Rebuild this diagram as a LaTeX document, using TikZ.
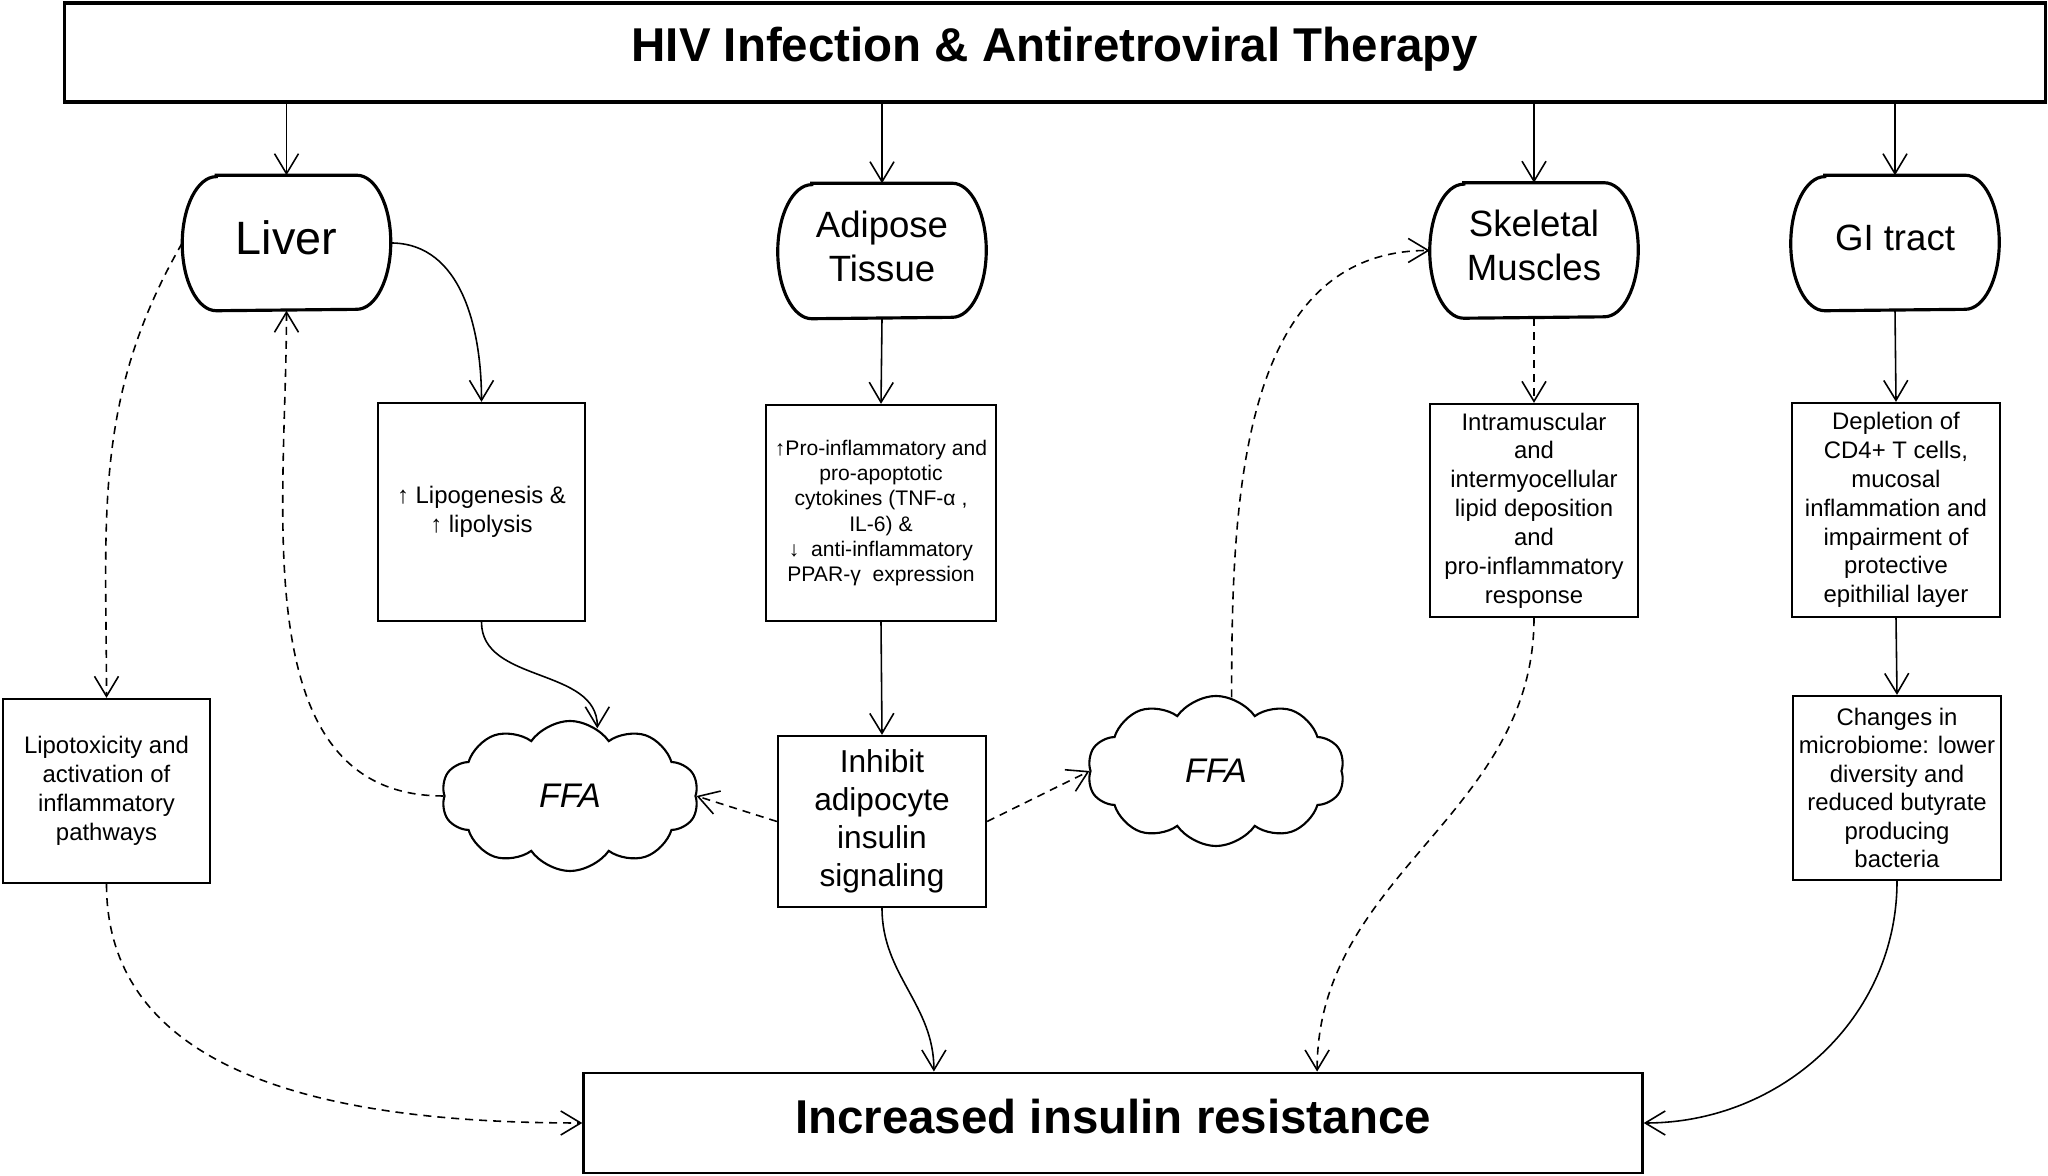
\documentclass[tikz,border=0pt]{standalone}
\usepackage{fontspec}
\setmainfont{Liberation Sans}
\usetikzlibrary{arrows.meta,shapes.symbols}

\tikzset{
  organ/.style={rectangle,inner sep=0pt,minimum width=2.07cm,minimum height=1.34cm,text depth=0.1cm,
    align=center,font=\fontsize{10.4}{12.5}\selectfont},
  effect/.style={draw,line width=0.6pt,inner sep=0pt,align=center,minimum width=2.07cm,
    font=\fontsize{6.8}{8.2}\selectfont},
  fatcloud/.style={draw,cloud,cloud puffs=10,cloud puff arc=110,aspect=1.7,line width=0.6pt,inner sep=0pt,
    minimum width=2.57cm,minimum height=1.5cm,font=\fontsize{9.7}{11}\selectfont\itshape},
  link/.style={line width=0.45pt,-{Straight Barb[length=0.2cm,width=0.24cm]}},
  dlink/.style={link,dash pattern=on 0.08cm off 0.06cm}
}
\newcommand\organframe[1]{\draw[line width=0.9pt] ([xshift=0.34cm]#1.north west) -- ([xshift=-0.34cm]#1.north east)
  arc[start angle=90,end angle=-90,x radius=0.34cm,y radius=0.67cm] -- ([xshift=0.34cm]#1.south west)
  arc[start angle=270,end angle=90,x radius=0.34cm,y radius=0.67cm] -- cycle;}

\begin{document}
\begin{tikzpicture}[x=0.01cm,y=0.01cm]
\useasboundingbox (0,0) rectangle (2048,1176);

\node[draw,line width=1pt,minimum width=19.8cm,minimum height=0.99cm,text depth=0.16cm,font=\fontsize{13.5}{16}\selectfont\bfseries] (hiv) at (1055,1123.5) {HIV Infection \& Antiretroviral Therapy};

\node[organ,font=\fontsize{13.3}{16}\selectfont] (liver) at (286.5,933) {Liver};
\node[organ] (adipose) at (882,925) {Adipose\\Tissue};
\node[organ] (muscle) at (1534,925.5) {Skeletal\\Muscles};
\node[organ] (gi) at (1895,933) {GI tract};
\foreach \n in {liver,adipose,muscle,gi} {\organframe{\n}}

\node[effect,minimum height=2.18cm] (lipo) at (481.5,664) {↑ Lipogenesis \&\\↑ lipolysis};
\node[effect,minimum width=2.3cm,minimum height=2.16cm,font=\fontsize{6}{7.2}\selectfont] (proinf) at (881,663)
  {↑Pro-inflammatory and\\pro-apoptotic\\cytokines (TNF-α ,\\IL-6) \&\\↓\ \ anti-inflammatory\\PPAR-γ\ \ expression};
\node[effect,minimum width=2.08cm,minimum height=1.71cm,font=\fontsize{9}{10.8}\selectfont] (inhibit) at (882,354.5) {Inhibit\\adipocyte\\insulin\\signaling};
\node[effect,minimum height=1.84cm] (lipotox) at (106.5,385) {Lipotoxicity and\\activation of\\inflammatory\\pathways};
\node[effect,minimum width=2.08cm,minimum height=2.13cm] (intra) at (1534,665.5) {Intramuscular\\and\\intermyocellular\\lipid deposition\\and\\pro-inflammatory\\response};
\node[effect,minimum width=2.08cm,minimum height=2.14cm] (depl) at (1896,666) {Depletion of\\CD4+ T cells,\\mucosal\\inflammation and\\impairment of\\protective\\epithilial layer};
\node[effect,minimum width=2.08cm,minimum height=1.84cm,font=\fontsize{6.8}{8.1}\selectfont] (microbe) at (1897,388) {Changes in\\microbiome: lower\\diversity and\\reduced butyrate\\producing\\bacteria};

\node[fatcloud] (ffaL) at (570,380) {FFA};
\node[fatcloud] (ffaR) at (1216,405) {FFA};

\node[draw,line width=0.8pt,minimum width=10.58cm,minimum height=1cm,text depth=0.13cm,font=\fontsize{13.5}{16}\selectfont\bfseries] (ir) at (1113,53) {Increased insulin resistance};

\draw[link] (hiv.south -| liver.north) -- (liver.north);
\draw[link] (hiv.south -| adipose.north) -- (adipose.north);
\draw[link] (hiv.south -| muscle.north) -- (muscle.north);
\draw[link] (hiv.south -| gi.north) -- (gi.north);

\draw[link] (liver.east) to[out=0,in=90] (lipo.north);
\draw[link] (lipo.south) to[out=-90,in=90] (ffaL.68);
\draw[dlink] (liver.west) to[out=240,in=90] (lipotox.north);
\draw[dlink] (ffaL.west) to[out=180,in=-90] (liver.south);
\draw[dlink] (inhibit.west) -- (ffaL.east);
\draw[dlink] (inhibit.east) -- (ffaR.west);
\draw[dlink] (ffaR.78) to[out=90,in=180] (muscle.west);

\draw[link] (adipose.south) -- (proinf.north);
\draw[link] (proinf.south) -- (inhibit.north);
\draw[dlink] (muscle.south) -- (intra.north);
\draw[link] (gi.south) -- (depl.north);
\draw[link] (depl.south) -- (microbe.north);

\draw[dlink] (lipotox.south) to[out=-90,in=180] (ir.west);
\draw[link] (inhibit.south) to[out=-90,in=90] ([xshift=-1.79cm]ir.north);
\draw[dlink] (intra.south) to[out=-90,in=90] ([xshift=2.04cm]ir.north);
\draw[link] (microbe.south) to[out=-90,in=0] (ir.east);
\end{tikzpicture}
\end{document}
